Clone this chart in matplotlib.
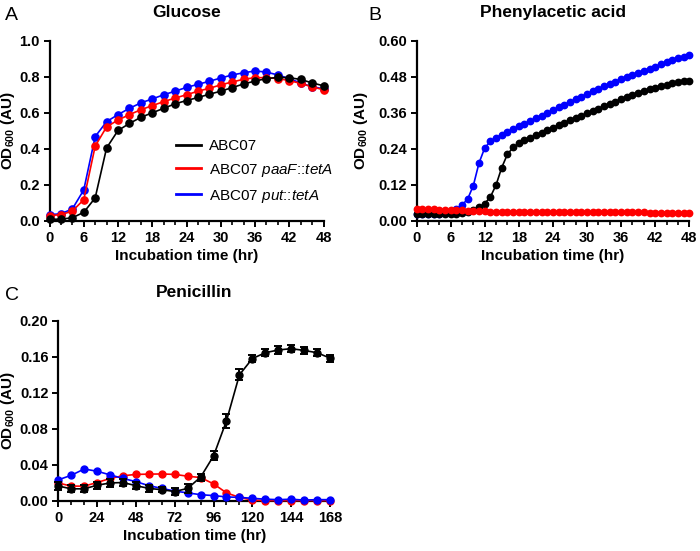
import matplotlib
matplotlib.use("Agg")
import matplotlib.pyplot as plt
from matplotlib.ticker import MultipleLocator, FormatStrFormatter
import numpy as np

plt.rcParams['font.family'] = ['Liberation Sans', 'DejaVu Sans']
plt.rcParams['mathtext.fontset'] = 'custom'
plt.rcParams['mathtext.rm'] = 'Liberation Sans'
plt.rcParams['mathtext.it'] = 'Liberation Sans:italic'
plt.rcParams['mathtext.bf'] = 'Liberation Sans:bold'

# ---------------- Data ----------------
# Panel A: Glucose (every 2 h)
time_a = list(range(0, 49, 2))
glc_abc07 = [0.010, 0.010, 0.018, 0.048, 0.128, 0.405, 0.502, 0.541, 0.575, 0.600, 0.625, 0.650,
             0.668, 0.685, 0.703, 0.720, 0.740, 0.760, 0.776, 0.790, 0.796, 0.795, 0.785, 0.766, 0.750]
glc_paaF = [0.030, 0.035, 0.055, 0.118, 0.415, 0.522, 0.560, 0.590, 0.617, 0.640, 0.662, 0.682,
            0.700, 0.720, 0.736, 0.755, 0.771, 0.786, 0.795, 0.795, 0.790, 0.779, 0.763, 0.744, 0.728]
glc_put = [0.035, 0.040, 0.067, 0.172, 0.468, 0.551, 0.590, 0.625, 0.655, 0.677, 0.700, 0.720,
           0.741, 0.758, 0.775, 0.793, 0.810, 0.822, 0.832, 0.826, 0.810, 0.790, 0.765, 0.745, 0.733]

# Panel B: Phenylacetic acid (every 1 h)
time_b = list(range(0, 49))
paa_abc07 = [0.022, 0.022, 0.022, 0.022, 0.022, 0.022, 0.022, 0.023, 0.025, 0.029, 0.036, 0.045,
             0.058, 0.080, 0.120, 0.178, 0.222, 0.245, 0.258, 0.268, 0.277, 0.286, 0.294, 0.302,
             0.311, 0.319, 0.327, 0.335, 0.343, 0.350, 0.358, 0.366, 0.374, 0.382, 0.390, 0.397,
             0.405, 0.412, 0.419, 0.426, 0.432, 0.438, 0.444, 0.449, 0.454, 0.458, 0.462, 0.465, 0.467]
paa_paaF = [0.040, 0.040, 0.039, 0.039, 0.038, 0.038, 0.037, 0.036, 0.035, 0.034, 0.033, 0.032,
            0.032, 0.031, 0.031, 0.031, 0.031, 0.031, 0.030, 0.030, 0.030, 0.030, 0.030, 0.030,
            0.030, 0.030, 0.030, 0.030, 0.030, 0.030, 0.029, 0.029, 0.029, 0.029, 0.029, 0.029,
            0.029, 0.029, 0.029, 0.029, 0.029, 0.028, 0.028, 0.028, 0.028, 0.028, 0.028, 0.028, 0.028]
paa_put = [0.023, 0.023, 0.023, 0.023, 0.024, 0.025, 0.028, 0.040, 0.053, 0.073, 0.118, 0.193,
           0.243, 0.265, 0.277, 0.287, 0.297, 0.306, 0.315, 0.324, 0.333, 0.342, 0.351, 0.360,
           0.369, 0.378, 0.387, 0.396, 0.405, 0.414, 0.423, 0.431, 0.440, 0.448, 0.456, 0.464,
           0.472, 0.479, 0.486, 0.493, 0.500, 0.507, 0.514, 0.521, 0.528, 0.535, 0.541, 0.547, 0.553]

# Panel C: Penicillin (every 8 h)
time_c = list(range(0, 169, 8))
pen_abc07 = [0.0166, 0.0135, 0.0135, 0.0175, 0.0200, 0.0205, 0.0170, 0.0140, 0.0125, 0.0105, 0.0140,
             0.0265, 0.0500, 0.0890, 0.1400, 0.1580, 0.1645, 0.1675, 0.1690, 0.1670, 0.1645, 0.1585]
pen_abc07_err = [0.004, 0.004, 0.004, 0.004, 0.004, 0.004, 0.004, 0.004, 0.003, 0.004, 0.005,
                 0.004, 0.005, 0.008, 0.006, 0.004, 0.004, 0.004, 0.004, 0.004, 0.004, 0.004]
pen_paaF = [0.0200, 0.0165, 0.0165, 0.0205, 0.0250, 0.0280, 0.0295, 0.0298, 0.0300, 0.0295, 0.0275,
            0.0260, 0.0190, 0.0090, 0.0040, 0.0010, 0.0005, 0.0005, 0.0005, 0.0005, 0.0005, 0.0005]
pen_put = [0.0235, 0.0285, 0.0355, 0.0330, 0.0290, 0.0250, 0.0215, 0.0170, 0.0140, 0.0110, 0.0090,
           0.0070, 0.0060, 0.0045, 0.0040, 0.0030, 0.0020, 0.0015, 0.0020, 0.0010, 0.0015, 0.0015]

labels = ["ABC07", r"ABC07 $\mathit{paaF}$::$\mathit{tetA}$", r"ABC07 $\mathit{put}$::$\mathit{tetA}$"]
colors = ["#000000", "#FF0000", "#0000FF"]

# ---------------- Figure ----------------
fig = plt.figure(figsize=(7.0, 5.51), dpi=100)

def style_axes(ax, xmax, xmajor, xminor, ymax, ystep, yfmt, ylab_x):
    ax.set_xlim(0, xmax)
    ax.set_ylim(0, ymax)
    for s in ['top', 'right']:
        ax.spines[s].set_visible(False)
    for s in ['left', 'bottom']:
        ax.spines[s].set_linewidth(1.6)
    ax.xaxis.set_major_locator(MultipleLocator(xmajor))
    ax.xaxis.set_minor_locator(MultipleLocator(xminor))
    ax.yaxis.set_major_locator(MultipleLocator(ystep))
    ax.yaxis.set_major_formatter(FormatStrFormatter(yfmt))
    ax.tick_params(axis='both', which='major', direction='out', length=4.5, width=1.4,
                   labelsize=10.5, pad=2.5)
    ax.tick_params(axis='x', which='minor', direction='out', length=3, width=1.2)
    for lab in ax.get_xticklabels() + ax.get_yticklabels():
        lab.set_fontweight('bold')
    ax.set_xlabel("Incubation time (hr)", fontsize=11, fontweight='bold', labelpad=3)
    ax.set_ylabel(r"OD$_{\mathbf{600}}$ (AU)", fontsize=11, fontweight='bold')
    ax.yaxis.set_label_coords(ylab_x, 0.5)

W, H = 700.0, 551.0
axA = fig.add_axes([49.5 / W, 1 - 221 / H, 274 / W, 180.3 / H])
axB = fig.add_axes([416.5 / W, 1 - 221 / H, 272.8 / W, 180.3 / H])
axC = fig.add_axes([58.3 / W, 1 - 501 / H, 271.7 / W, 180.3 / H])

lw = 1.2
# Panel A
for y, c, z in [(glc_put, colors[2], 3), (glc_paaF, colors[1], 4), (glc_abc07, colors[0], 5)]:
    axA.plot(time_a, y, color=c, lw=lw, marker='o', ms=5.2, zorder=z, clip_on=False)
style_axes(axA, 48, 6, 2, 1.0, 0.2, '%.1f', (17 - 49.5) / 274)
hA = [plt.Line2D([], [], color=c, lw=2.0) for c in colors]
axA.legend(hA, labels, loc='upper left', bbox_to_anchor=(0.462, 0.455), frameon=False,
           fontsize=11, handlelength=1.6, handletextpad=0.55, labelspacing=0.58, borderpad=0,
           borderaxespad=0)

# Panel B
for y, c, z in [(paa_put, colors[2], 3), (paa_abc07, colors[0], 4), (paa_paaF, colors[1], 5)]:
    axB.plot(time_b, y, color=c, lw=lw, marker='o', ms=4.6, zorder=z, clip_on=False)
style_axes(axB, 48, 6, 2, 0.60, 0.12, '%.2f', (370 - 416.5) / 272.8)

# Panel C
axC.plot(time_c, pen_paaF, color=colors[1], lw=lw, marker='o', ms=5.0, zorder=3, clip_on=False)
axC.plot(time_c, pen_put, color=colors[2], lw=lw, marker='o', ms=5.0, zorder=4, clip_on=False)
axC.errorbar(time_c, pen_abc07, yerr=pen_abc07_err, color=colors[0], lw=lw, marker='o', ms=5.0,
             capsize=3, elinewidth=1.4, capthick=1.4, zorder=5, clip_on=False)
style_axes(axC, 168, 24, 8, 0.20, 0.04, '%.2f', (17 - 58.3) / 271.7)

# Titles and panel letters
fig.text(187 / W, 1 - 17 / H, "Glucose", ha='center', va='baseline', fontsize=12.5, fontweight='bold')
fig.text(553 / W, 1 - 17 / H, "Phenylacetic acid", ha='center', va='baseline', fontsize=12.5, fontweight='bold')
fig.text(194 / W, 1 - 297 / H, "Penicillin", ha='center', va='baseline', fontsize=12.5, fontweight='bold')
fig.text(5 / W, 1 - 20 / H, "A", ha='left', va='baseline', fontsize=14)
fig.text(368 / W, 1 - 20 / H, "B", ha='left', va='baseline', fontsize=14)
fig.text(5 / W, 1 - 300 / H, "C", ha='left', va='baseline', fontsize=14)

fig.savefig("out.png", dpi=100)
